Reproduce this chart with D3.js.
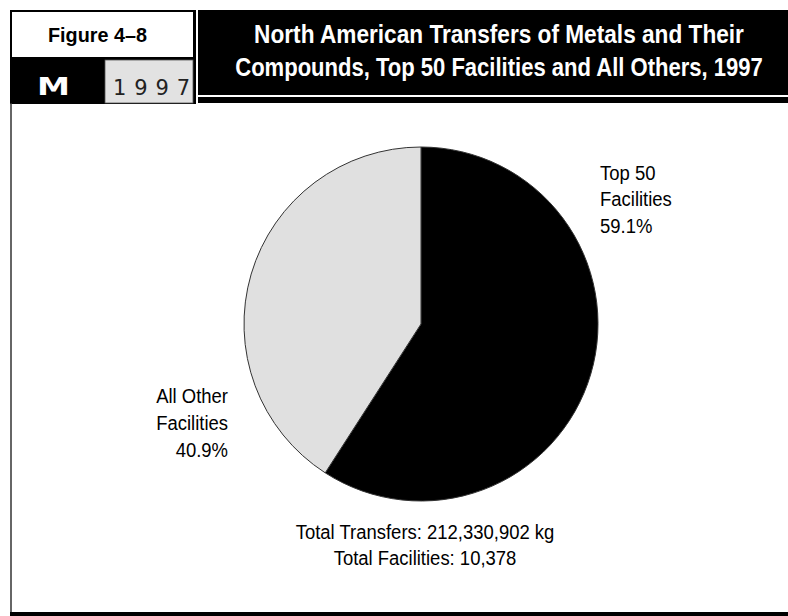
<!DOCTYPE html>
<html>
<head>
<meta charset="utf-8">
<script src="https://cdn.jsdelivr.net/npm/d3@7"></script>
<style>
  html, body { margin: 0; padding: 0; background: #fff; }
  svg { display: block; }
</style>
</head>
<body>
<svg id="chart" width="788" height="616"></svg>
<script>
// ---- data ----
const categories = ["Top 50 Facilities", "All Other Facilities"];
const shares = [59.1, 40.9];
const labelLines = [["Top 50", "Facilities", "59.1%"], ["All Other", "Facilities", "40.9%"]];
const titleLines = ["North American Transfers of Metals and Their", "Compounds, Top 50 Facilities and All Others, 1997"];
const figureLabel = "Figure 4\u20138";
const yearLabel = "1997";
const footerLines = ["Total Transfers: 212,330,902 kg", "Total Facilities: 10,378"];

const svg = d3.select("#chart");
const W = 788, H = 616;
const FONT = "'Liberation Sans', Arial, Helvetica, sans-serif";
const SX = 0.88; // condensed look

function condText(parent, x, y, str, opts) {
  return parent.append("text")
    .attr("transform", `translate(${x},${y}) scale(${opts.sx || SX},1)`)
    .attr("text-anchor", opts.anchor || "start")
    .attr("font-family", opts.family || FONT)
    .attr("font-size", opts.size || 21)
    .attr("font-weight", opts.weight || "normal")
    .attr("fill", opts.fill || "#000")
    .text(str);
}
// fit a text to a target width by horizontal scaling
function fitText(parent, x, y, str, width, opts) {
  const t = condText(parent, x, y, str, Object.assign({}, opts, {sx: 1}));
  const natural = t.node().getComputedTextLength();
  t.attr("transform", `translate(${x},${y}) scale(${width / natural},1)`);
  return t;
}

// ---- header ----
svg.append("rect").attr("x", 10).attr("y", 10).attr("width", 186).attr("height", 94).attr("fill", "#000");
svg.append("rect").attr("x", 12).attr("y", 12).attr("width", 181).attr("height", 45).attr("fill", "#fff");
svg.append("rect").attr("x", 105).attr("y", 60).attr("width", 88).attr("height", 43)
  .attr("fill", "#e2e2e2").attr("stroke", "#555").attr("stroke-width", 0.8);
svg.append("rect").attr("x", 198).attr("y", 10).attr("width", W - 198).attr("height", 85).attr("fill", "#000");
svg.append("rect").attr("x", 198).attr("y", 97).attr("width", W - 198).attr("height", 6).attr("fill", "#000");

fitText(svg, 97.5, 42, figureLabel, 99, {anchor: "middle", size: 21, weight: "bold"});
fitText(svg, 53.5, 95, "M", 33, {anchor: "middle", size: 24, weight: "bold", fill: "#fff", family: "'DejaVu Sans', sans-serif"});
svg.append("text").attr("x", 151.5).attr("y", 95)
  .attr("text-anchor", "middle").attr("font-family", "'DejaVu Sans', sans-serif")
  .attr("font-size", 21).attr("fill", "#222")
  .attr("textLength", 77).attr("lengthAdjust", "spacing")
  .text(yearLabel);

const titleLen = [490, 528];
titleLines.forEach((str, i) => {
  fitText(svg, 499, 43 + i * 33, str, titleLen[i], {anchor: "middle", size: 25, weight: "bold", fill: "#fff"});
});

// ---- chart frame ----
svg.append("line").attr("x1", 11).attr("x2", 11).attr("y1", 103).attr("y2", H)
  .attr("stroke", "#333").attr("stroke-width", 1.5);
svg.append("rect").attr("x", 10).attr("y", 612).attr("width", W - 10).attr("height", 4).attr("fill", "#000");

// ---- pie ----
const cx = 421, cy = 324, r = 177;
const pie = d3.pie().sort(null).value(d => d)(shares);
const arc = d3.arc().innerRadius(0).outerRadius(r);
const fills = ["#000", "#e0e0e0"];
const g = svg.append("g").attr("transform", `translate(${cx},${cy})`);
g.selectAll("path").data(pie).join("path")
  .attr("d", arc)
  .attr("fill", (d, i) => fills[i])
  .attr("stroke", "#333").attr("stroke-width", 1);

// ---- labels ----
const lineGap = 26.7;
const labPos = [{x: 600, y: 179.6, anchor: "start"}, {x: 228, y: 403.3, anchor: "end"}];
labelLines.forEach((lines, k) => {
  lines.forEach((str, i) => {
    condText(svg, labPos[k].x, labPos[k].y + i * lineGap, str, {anchor: labPos[k].anchor});
  });
});

footerLines.forEach((str, i) => {
  condText(svg, 425, 538.5 + i * lineGap, str, {anchor: "middle"});
});
</script>
</body>
</html>
